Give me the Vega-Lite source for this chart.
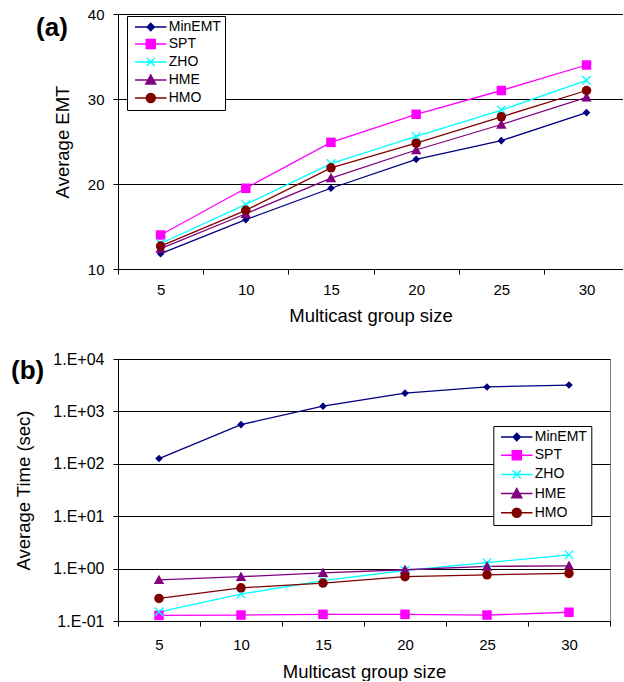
{
  "$schema": "https://vega.github.io/schema/vega-lite/v6.json",
  "padding": {"left": 10, "top": 7, "right": 0, "bottom": 0},
  "background": "white",
  "datasets": {
    "emt": [
      {"size": 5, "method": "MinEMT", "value": 11.8},
      {"size": 10, "method": "MinEMT", "value": 15.8},
      {"size": 15, "method": "MinEMT", "value": 19.5},
      {"size": 20, "method": "MinEMT", "value": 22.9},
      {"size": 25, "method": "MinEMT", "value": 25.1},
      {"size": 30, "method": "MinEMT", "value": 28.4},
      {"size": 5, "method": "SPT", "value": 14.0},
      {"size": 10, "method": "SPT", "value": 19.5},
      {"size": 15, "method": "SPT", "value": 24.9},
      {"size": 20, "method": "SPT", "value": 28.2},
      {"size": 25, "method": "SPT", "value": 31.0},
      {"size": 30, "method": "SPT", "value": 34.0},
      {"size": 5, "method": "ZHO", "value": 13.0},
      {"size": 10, "method": "ZHO", "value": 17.6},
      {"size": 15, "method": "ZHO", "value": 22.4},
      {"size": 20, "method": "ZHO", "value": 25.6},
      {"size": 25, "method": "ZHO", "value": 28.7},
      {"size": 30, "method": "ZHO", "value": 32.2},
      {"size": 5, "method": "HME", "value": 12.4},
      {"size": 10, "method": "HME", "value": 16.5},
      {"size": 15, "method": "HME", "value": 20.7},
      {"size": 20, "method": "HME", "value": 24.0},
      {"size": 25, "method": "HME", "value": 27.0},
      {"size": 30, "method": "HME", "value": 30.2},
      {"size": 5, "method": "HMO", "value": 12.7},
      {"size": 10, "method": "HMO", "value": 16.9},
      {"size": 15, "method": "HMO", "value": 21.9},
      {"size": 20, "method": "HMO", "value": 24.8},
      {"size": 25, "method": "HMO", "value": 27.9},
      {"size": 30, "method": "HMO", "value": 31.0}
    ],
    "time": [
      {"size": 5, "method": "MinEMT", "value": 126},
      {"size": 10, "method": "MinEMT", "value": 560},
      {"size": 15, "method": "MinEMT", "value": 1260},
      {"size": 20, "method": "MinEMT", "value": 2230},
      {"size": 25, "method": "MinEMT", "value": 2930},
      {"size": 30, "method": "MinEMT", "value": 3180},
      {"size": 5, "method": "SPT", "value": 0.128},
      {"size": 10, "method": "SPT", "value": 0.13},
      {"size": 15, "method": "SPT", "value": 0.134},
      {"size": 20, "method": "SPT", "value": 0.134},
      {"size": 25, "method": "SPT", "value": 0.13},
      {"size": 30, "method": "SPT", "value": 0.147},
      {"size": 5, "method": "ZHO", "value": 0.15},
      {"size": 10, "method": "ZHO", "value": 0.326},
      {"size": 15, "method": "ZHO", "value": 0.59},
      {"size": 20, "method": "ZHO", "value": 0.92},
      {"size": 25, "method": "ZHO", "value": 1.3},
      {"size": 30, "method": "ZHO", "value": 1.83},
      {"size": 5, "method": "HME", "value": 0.61},
      {"size": 10, "method": "HME", "value": 0.7},
      {"size": 15, "method": "HME", "value": 0.83},
      {"size": 20, "method": "HME", "value": 0.95},
      {"size": 25, "method": "HME", "value": 1.1},
      {"size": 30, "method": "HME", "value": 1.13},
      {"size": 5, "method": "HMO", "value": 0.27},
      {"size": 10, "method": "HMO", "value": 0.43},
      {"size": 15, "method": "HMO", "value": 0.53},
      {"size": 20, "method": "HMO", "value": 0.7},
      {"size": 25, "method": "HMO", "value": 0.76},
      {"size": 30, "method": "HMO", "value": 0.81}
    ]
  },
  "vconcat": [
    {
      "width": 505,
      "height": 255,
      "view": {"stroke": null},
      "layer": [
        {
          "data": {"name": "emt"},
          "mark": {"type": "line", "strokeWidth": 1.3},
          "encoding": {
            "x": {"field": "size", "type": "quantitative",
              "scale": {"domain": [2.5, 32.14], "nice": false, "zero": false},
              "axis": {"title": "Multicast group size", "grid": false,
                "values": [2.5, 5, 7.5, 10, 12.5, 15, 17.5, 20, 22.5, 25, 27.5, 30],
                "labelExpr": "datum.value % 5 == 0 ? datum.label : ''",
                "tickOpacity": {"condition": {"test": "datum.value % 5 == 0", "value": 0}, "value": 1},
                "labelOverlap": false, "labelFlush": false, "labelPadding": 8, "titlePadding": 9.5}},
            "y": {"field": "value", "type": "quantitative",
              "scale": {"domain": [10, 40], "nice": false, "zero": false},
              "axis": {"title": "Average EMT", "values": [10, 20, 30, 40], "grid": true, "labelPadding": 9, "titlePadding": 15}},
            "stroke": {"field": "method", "type": "nominal", "sort": ["MinEMT", "SPT", "ZHO", "HME", "HMO"],
              "scale": {"range": ["#000080", "#FF00FF", "#00FFFF", "#800080", "#800000"]}, "legend": null}
          }
        },
        {
          "data": {"name": "emt"},
          "mark": {"type": "point", "filled": true, "size": 90, "opacity": 1},
          "encoding": {
            "x": {"field": "size", "type": "quantitative"},
            "y": {"field": "value", "type": "quantitative"},
            "color": {"field": "method", "type": "nominal",
              "scale": {"domain": ["MinEMT", "SPT", "ZHO", "HME", "HMO"], "range": ["#000080", "#FF00FF", "#00FFFF", "#800080", "#800000"]},
              "legend": {"title": null, "orient": "none", "legendX": 9, "legendY": 2,
                "strokeColor": "black", "fillColor": "white", "padding": 4,
                "symbolSize": 81, "symbolStrokeWidth": 1.5, "symbolOffset": 12.75, "symbolOpacity": 1,
                "labelOffset": 11, "labelFontSize": 14, "labelColor": "black", "rowPadding": 2,
                "encode": {"symbols": {"update": {
                  "shape": {"signal": "datum.value == 'MinEMT' ? 'M-3.5,0H3.5M0,-0.8L0.8,0L0,0.8L-0.8,0Z' : datum.value == 'SPT' ? 'M-3.5,0H3.5M-1,-1H1V1H-1Z' : datum.value == 'ZHO' ? 'M-3.5,0H3.5M-0.9,-0.9L0.9,0.9M-0.9,0.9L0.9,-0.9' : datum.value == 'HME' ? 'M-3.5,0H3.5M0,-1.1L1.1,0.9H-1.1Z' : 'M-3.5,0H3.5M1,0A1,1,0,1,1,-1,0A1,1,0,1,1,1,0Z'"},
                  "stroke": {"signal": "datum.value == 'MinEMT' ? '#000080' : datum.value == 'SPT' ? '#FF00FF' : datum.value == 'ZHO' ? '#00FFFF' : datum.value == 'HME' ? '#800080' : '#800000'"}
                }}}}},
            "shape": {"field": "method", "type": "nominal", "sort": ["MinEMT", "SPT", "ZHO", "HME", "HMO"],
              "scale": {"range": ["M0,-0.8L0.8,0L0,0.8L-0.8,0Z", "M-1,-1H1V1H-1Z", "M0,-0.2L0.8,-1L1,-0.8L0.2,0L1,0.8L0.8,1L0,0.2L-0.8,1L-1,0.8L-0.2,0L-1,-0.8L-0.8,-1Z", "M0,-1.1L1.1,0.9H-1.1Z", "circle"]},
              "legend": null}
          }
        },
        {
          "data": {"values": [{"label": "(a)"}]},
          "mark": {"type": "text", "fontSize": 26, "fontWeight": "bold", "align": "left", "baseline": "middle", "color": "black"},
          "encoding": {
            "x": {"datum": -2.31, "type": "quantitative"},
            "y": {"datum": 38.4, "type": "quantitative"},
            "text": {"field": "label"}
          }
        }
      ]
    },
    {
      "width": 492,
      "height": 262,
      "view": {"stroke": "#808080"},
      "layer": [
        {
          "data": {"name": "time"},
          "mark": {"type": "line", "strokeWidth": 1.3},
          "encoding": {
            "x": {"field": "size", "type": "quantitative",
              "scale": {"domain": [2.5, 32.5], "nice": false, "zero": false},
              "axis": {"title": "Multicast group size", "grid": false,
                "values": [2.5, 5, 7.5, 10, 12.5, 15, 17.5, 20, 22.5, 25, 27.5, 30, 32.5],
                "labelExpr": "datum.value % 5 == 0 ? datum.label : ''",
                "tickOpacity": {"condition": {"test": "datum.value % 5 == 0", "value": 0}, "value": 1},
                "labelOverlap": false, "labelFlush": false, "labelPadding": 11, "titlePadding": 10}},
            "y": {"field": "value", "type": "quantitative",
              "scale": {"type": "log", "domain": [0.1, 10000], "nice": false},
              "axis": {"title": "Average Time (sec)", "values": [0.1, 1, 10, 100, 1000, 10000], "grid": true,
                "labelExpr": "'1.E' + (datum.value >= 1 ? '+' : '-') + '0' + abs(round(log(datum.value) / LN10))",
                "labelFontSize": 16, "labelPadding": 9, "titlePadding": 19}},
            "stroke": {"field": "method", "type": "nominal", "sort": ["MinEMT", "SPT", "ZHO", "HME", "HMO"],
              "scale": {"range": ["#000080", "#FF00FF", "#00FFFF", "#800080", "#800000"]}, "legend": null}
          }
        },
        {
          "data": {"name": "time"},
          "mark": {"type": "point", "filled": true, "size": 90, "opacity": 1},
          "encoding": {
            "x": {"field": "size", "type": "quantitative"},
            "y": {"field": "value", "type": "quantitative"},
            "color": {"field": "method", "type": "nominal",
              "scale": {"domain": ["MinEMT", "SPT", "ZHO", "HME", "HMO"], "range": ["#000080", "#FF00FF", "#00FFFF", "#800080", "#800000"]},
              "legend": {"title": null, "orient": "none", "legendX": 375.3, "legendY": 67,
                "strokeColor": "black", "fillColor": "white", "padding": 4,
                "symbolSize": 81, "symbolStrokeWidth": 1.5, "symbolOffset": 12.45, "symbolOpacity": 1,
                "labelOffset": 11, "labelFontSize": 14, "labelColor": "black", "rowPadding": 3.2,
                "encode": {"symbols": {"update": {
                  "shape": {"signal": "datum.value == 'MinEMT' ? 'M-3.5,0H3.5M0,-0.8L0.8,0L0,0.8L-0.8,0Z' : datum.value == 'SPT' ? 'M-3.5,0H3.5M-1,-1H1V1H-1Z' : datum.value == 'ZHO' ? 'M-3.5,0H3.5M-0.9,-0.9L0.9,0.9M-0.9,0.9L0.9,-0.9' : datum.value == 'HME' ? 'M-3.5,0H3.5M0,-1.1L1.1,0.9H-1.1Z' : 'M-3.5,0H3.5M1,0A1,1,0,1,1,-1,0A1,1,0,1,1,1,0Z'"},
                  "stroke": {"signal": "datum.value == 'MinEMT' ? '#000080' : datum.value == 'SPT' ? '#FF00FF' : datum.value == 'ZHO' ? '#00FFFF' : datum.value == 'HME' ? '#800080' : '#800000'"}
                }}}}},
            "shape": {"field": "method", "type": "nominal", "sort": ["MinEMT", "SPT", "ZHO", "HME", "HMO"],
              "scale": {"range": ["M0,-0.8L0.8,0L0,0.8L-0.8,0Z", "M-1,-1H1V1H-1Z", "M0,-0.2L0.8,-1L1,-0.8L0.2,0L1,0.8L0.8,1L0,0.2L-0.8,1L-1,0.8L-0.2,0L-1,-0.8L-0.8,-1Z", "M0,-1.1L1.1,0.9H-1.1Z", "circle"]},
              "legend": null}
          }
        },
        {
          "data": {"values": [{"label": "(b)"}]},
          "mark": {"type": "text", "fontSize": 26, "fontWeight": "bold", "align": "left", "baseline": "middle", "color": "black"},
          "encoding": {
            "x": {"datum": -4.02, "type": "quantitative"},
            "y": {"datum": 5900, "type": "quantitative"},
            "text": {"field": "label"}
          }
        }
      ]
    }
  ],
  "bounds": "flush",
  "spacing": 90,
  "resolve": {
    "scale": {"x": "independent", "y": "independent", "color": "independent", "shape": "independent", "stroke": "independent"},
    "axis": {"x": "independent", "y": "independent"},
    "legend": {"color": "independent", "shape": "independent", "stroke": "independent"}
  },
  "config": {
    "font": "Liberation Sans",
    "axis": {"domainColor": "black", "tickColor": "black", "gridColor": "black", "gridOpacity": 1, "labelColor": "black", "titleColor": "black",
      "labelFontSize": 15, "titleFontSize": 18.5, "titleFontWeight": "normal", "tickSize": 5, "domainWidth": 1, "tickWidth": 1, "gridWidth": 1},
    "legend": {"labelFont": "Liberation Sans"}
  }
}
